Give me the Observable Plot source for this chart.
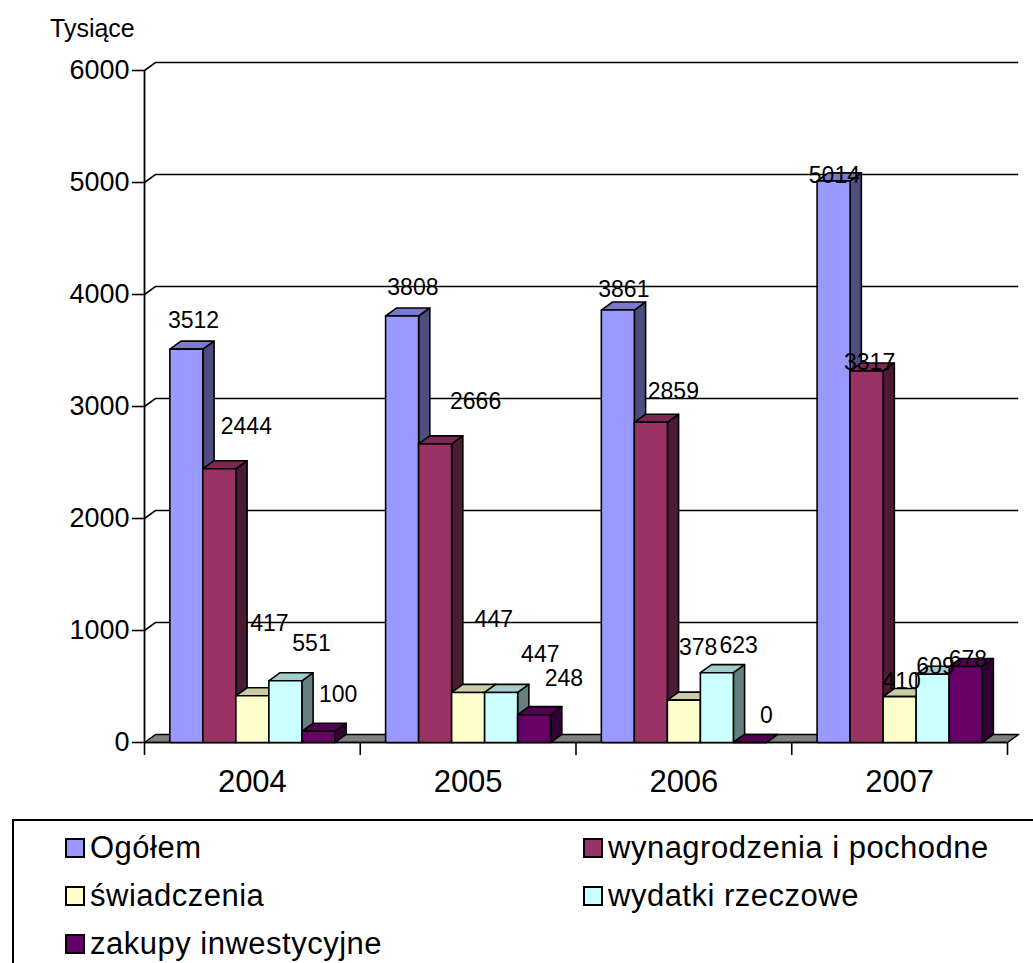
<!DOCTYPE html>
<html>
<head>
<meta charset="utf-8">
<script src="https://cdn.jsdelivr.net/npm/d3@7"></script>
<script src="https://cdn.jsdelivr.net/npm/@observablehq/plot@0.6"></script>
<style>
  html, body { margin: 0; padding: 0; background: #fff; }
  body { width: 1033px; height: 963px; overflow: hidden; position: relative; font-family: "Liberation Sans", Arial, sans-serif; }
  #chart { position: absolute; left: 0; top: 0; }
  #unit { position: absolute; left: 50px; top: 16px; font-size: 25px; line-height: 1; color: #000; }
  #legendBox { position: absolute; left: 12px; top: 819px; width: 1060px; height: 200px; border: 2px solid #000; box-sizing: border-box; }
  .item { position: absolute; display: flex; align-items: center; font-size: 31px; line-height: 1; letter-spacing: 0.5px; color: #000; white-space: nowrap; }
  .sw { width: 16px; height: 16px; border: 2px solid #000; margin-right: 5px; }
</style>
</head>
<body>
<div id="chart"></div>
<div id="unit">Tysiące</div>
<div id="legendBox"></div>
<div id="legend"></div>
<script>
// ---- data ----
const years = ["2004", "2005", "2006", "2007"];
const seriesNames = ["Ogółem", "wynagrodzenia i pochodne", "świadczenia", "wydatki rzeczowe", "zakupy inwestycyjne"];
const ogolem        = [3512, 3808, 3861, 5014];
const wynagrodzenia = [2444, 2666, 2859, 3317];
const swiadczenia   = [417, 447, 378, 410];
const wydatki       = [551, 447, 623, 609];
const zakupy        = [100, 248, 0, 678];
const yTicks = [0, 1000, 2000, 3000, 4000, 5000, 6000];
const seriesColors = ["#9999FF", "#993366", "#FFFFCC", "#CCFFFF", "#660066"];

// ---- layout / style constants ----
const allSeries = [ogolem, wynagrodzenia, swiadczenia, wydatki, zakupy];
const barW = 0.153;                       // bar width in category units
const groupPad = (1 - barW * seriesNames.length) / 2;
const depthX = 0.052;                     // 3D depth (category units)
const depthY = 72;                        // 3D depth (value units)
const pxPerCat = 215.75, pxPerVal = 0.112;
const labelDx = [8, 30, 19, 29, 22];      // px, per series
const labelDy = [-26, -38, -66, -34, -33];// px, per series
const yearDxFactor = [0.9, 1.35, 0.75, 0.1];
const yearDyFactor = [1.1, 1.1, 0.8, 0.22];

function shade(c, f) {
  const r = d3.rgb(c);
  return d3.rgb(r.r * f, r.g * f, r.b * f).formatHex();
}

// build faces
const faces = [];
const labels = [];
years.forEach((yr, i) => {
  allSeries.forEach((arr, k) => {
    const v = arr[i];
    const x0 = i + groupPad + k * barW, x1 = x0 + barW;
    const col = seriesColors[k];
    const id = `${i}-${k}`;
    const push = (name, pts, fill) => pts.forEach(([x, y]) => faces.push({id: id + name, x, y, fill}));
    push("s", [[x1, 0], [x1 + depthX, depthY], [x1 + depthX, v + depthY], [x1, v], [x1, 0]], shade(col, 0.5));
    push("t", [[x0, v], [x1, v], [x1 + depthX, v + depthY], [x0 + depthX, v + depthY], [x0, v]], shade(col, 0.8));
    push("f", [[x0, 0], [x1, 0], [x1, v], [x0, v], [x0, 0]], col);
    labels.push({x: (x0 + x1) / 2, y: v, text: String(v), k, i});
  });
});

const floor = [[0, 0], [years.length, 0], [years.length + depthX, depthY], [depthX, depthY], [0, 0]]
  .map(([x, y]) => ({x, y}));

const plot = Plot.plot({
  width: 1033,
  height: 805,
  marginLeft: 144,
  marginRight: 26,
  marginTop: 70,
  marginBottom: 63,
  style: {fontFamily: "'Liberation Sans', Arial, sans-serif", fontSize: "23px", background: "white", overflow: "visible", color: "#000"},
  x: {domain: [0, years.length], label: null},
  y: {domain: [0, 6000], label: null},
  color: {type: "identity"},
  marks: [
    // back wall gridlines
    Plot.ruleY(yTicks.filter(t => t > 0), {y: t => t + depthY, x1: depthX, x2: years.length + depthX, stroke: "#000", strokeWidth: 1.6}),
    // diagonal tick connectors
    Plot.link(yTicks.filter(t => t > 0), {x1: 0, y1: t => t, x2: depthX, y2: t => t + depthY, stroke: "#000", strokeWidth: 1.6}),
    // floor
    Plot.line(floor, {x: "x", y: "y", fill: "#808080", stroke: "#000", strokeWidth: 1.4}),
    // axis lines
    Plot.ruleX([0], {y1: 0, y2: 6000, stroke: "#000", strokeWidth: 1.8}),
    Plot.ruleY([0], {x1: 0, x2: years.length, stroke: "#000", strokeWidth: 1.6}),
    // bars (3D faces)
    Plot.line(faces, {x: "x", y: "y", z: "id", fill: "fill", stroke: "#000", strokeWidth: 1.6, strokeLinejoin: "round"}),
    // axes
    Plot.axisY(yTicks, {tickSize: 12, tickPadding: 3, fontSize: 27, tickFormat: d => String(d), label: null, stroke: "#000", strokeWidth: 1.6}),
    Plot.axisX(d3.range(years.length + 1), {tickSize: 13, tickFormat: () => "", label: null, strokeWidth: 1.6}),
    Plot.axisX(d3.range(years.length).map(i => i + 0.5), {tickSize: 0, tickPadding: 27, fontSize: 31, tickFormat: d => years[Math.floor(d)], label: null}),
    // data labels
    Plot.text(labels, {
      x: d => d.x + labelDx[d.k] * yearDxFactor[d.i] / pxPerCat,
      y: d => d.y - labelDy[d.k] * yearDyFactor[d.i] / pxPerVal,
      text: "text", fontSize: 23, fill: "#000"
    })
  ]
});
document.getElementById("chart").appendChild(plot);

// legend
const legend = document.getElementById("legend");
const legendPos = [[65, 832], [583, 832], [65, 880], [583, 880], [65, 928]];
seriesNames.forEach((name, k) => {
  const it = document.createElement("div");
  it.className = "item";
  it.style.left = legendPos[k][0] + "px";
  it.style.top = legendPos[k][1] + "px";
  const sw = document.createElement("div");
  sw.className = "sw";
  sw.style.background = seriesColors[k];
  const tx = document.createElement("span");
  tx.textContent = name;
  it.appendChild(sw);
  it.appendChild(tx);
  legend.appendChild(it);
});
</script>
</body>
</html>
